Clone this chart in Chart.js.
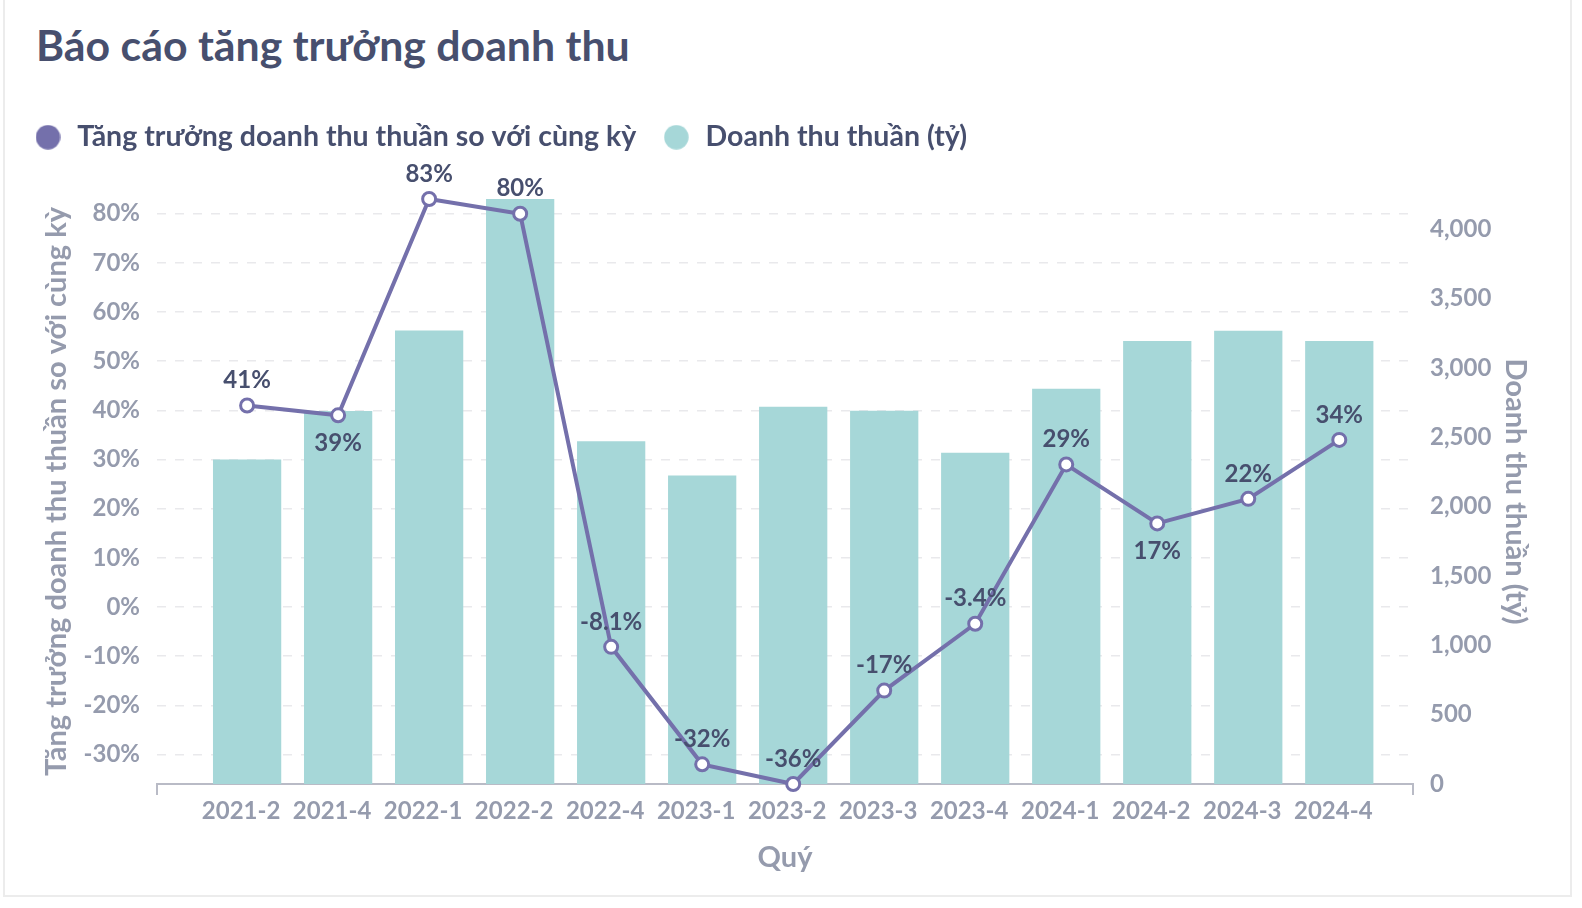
<!DOCTYPE html>
<html lang="vi">
<head>
<meta charset="utf-8">
<title>Báo cáo tăng trưởng doanh thu</title>
<script src="https://cdn.jsdelivr.net/npm/chart.js@4.4.1/dist/chart.umd.min.js"></script>
<style>
  html, body { margin: 0; padding: 0; background: #fff; }
  body { width: 1582px; height: 908px; position: relative; overflow: hidden; font-family: Lato, sans-serif; }
  .card { position: absolute; left: 3px; top: -10px; width: 1565px; height: 903px; border: 2px solid #ececec; }
  h1 { position: absolute; left: 36px; top: 24px; margin: 0; font: 700 42.8px/1 Lato, sans-serif; color: #474f6e; }
  #chartWrap { position: absolute; left: 0; top: 0; width: 1582px; height: 908px; }
</style>
</head>
<body>
<div class="card"></div>
<h1>Báo cáo tăng trưởng doanh thu</h1>
<div id="chartWrap"><canvas id="growthChart"></canvas></div>
<script>
// data
const quarters = ['2021-2', '2021-4', '2022-1', '2022-2', '2022-4', '2023-1', '2023-2',
                  '2023-3', '2023-4', '2024-1', '2024-2', '2024-3', '2024-4'];
const growthPct = [41, 39, 83, 80, -8.1, -32, -36, -17, -3.4, 29, 17, 22, 34];
const revenue = [2339, 2689, 3269, 4217, 2471, 2223, 2720, 2691, 2387, 2850, 3194, 3267, 3194];
const growthTicks = [-30, -20, -10, 0, 10, 20, 30, 40, 50, 60, 70, 80];
const revenueTicks = [0, 500, 1000, 1500, 2000, 2500, 3000, 3500, 4000];

const purple = '#7470ab';
const teal = '#a6d7d8';
const tickGray = '#959bad';
const textDark = '#474f6e';

// labels that sit under their point instead of above
const labelBelow = [1, 10];

// round legend marker drawn on a small canvas
function dot(color) {
    const c = document.createElement('canvas');
    c.width = 25;
    c.height = 25;
    const g = c.getContext('2d');
    g.fillStyle = color;
    g.beginPath();
    g.arc(12.5, 12.5, 12.2, 0, Math.PI * 2);
    g.fill();
    return c;
}

// extra room between legend and plot
const legendGap = {
    id: 'legendGap',
    beforeInit(chart) {
        const fit = chart.legend.fit;
        chart.legend.fit = function () {
            fit.call(this);
            this.height += 37.5;
        };
    }
};

// value labels on the growth line
const pointLabels = {
    id: 'pointLabels',
    afterDatasetsDraw(chart) {
        const ctx = chart.ctx;
        const meta = chart.getDatasetMeta(0);
        ctx.save();
        ctx.font = '700 24px Lato';
        ctx.fillStyle = textDark;
        ctx.textAlign = 'center';
        ctx.textBaseline = 'middle';
        meta.data.forEach(function (pt, i) {
            const dy = labelBelow.includes(i) ? 28 : -25;
            ctx.fillText(growthPct[i] + '%', pt.x, pt.y + dy);
        });
        ctx.restore();
    }
};

// small end ticks on the x axis line
const axisEnds = {
    id: 'axisEnds',
    afterDraw(chart) {
        const {ctx, chartArea} = chart;
        ctx.save();
        ctx.strokeStyle = '#b9bbc6';
        ctx.lineWidth = 2;
        ctx.beginPath();
        [chartArea.left, chartArea.right].forEach(function (x) {
            ctx.moveTo(x, chartArea.bottom);
            ctx.lineTo(x, chartArea.bottom + 11);
        });
        ctx.stroke();
        ctx.restore();
    }
};

const tickFont = { family: 'Lato', size: 24, weight: 700 };
const titleFont = { family: 'Lato', size: 29, weight: 700 };

new Chart(document.getElementById('growthChart'), {
    data: {
        datasets: [{
            type: 'line',
            label: 'Tăng trưởng doanh thu thuần so với cùng kỳ',
            data: growthPct.map((v, i) => ({ x: i, y: v })),
            yAxisID: 'y',
            order: 0,
            clip: false,
            borderColor: purple,
            backgroundColor: purple,
            borderWidth: 4,
            tension: 0,
            pointRadius: 6.5,
            pointBorderWidth: 3,
            pointBackgroundColor: '#fff',
            pointBorderColor: purple
        }, {
            type: 'bar',
            label: 'Doanh thu thuần (tỷ)',
            data: revenue.map((v, i) => ({ x: i, y: v })),
            yAxisID: 'y1',
            order: 1,
            backgroundColor: teal,
            categoryPercentage: 1,
            barPercentage: 0.75
        }]
    },
    options: {
        responsive: true,
        maintainAspectRatio: false,
        animation: false,
        layout: { padding: { top: 98, left: 8, right: 45, bottom: 30 } },
        plugins: {
            tooltip: { enabled: false },
            title: { display: false },
            legend: {
                position: 'top',
                align: 'start',
                labels: {
                    usePointStyle: true,
                    pointStyleWidth: 30,
                    boxHeight: 17,
                    padding: 25,
                    color: textDark,
                    font: { family: 'Lato', size: 28.5, weight: 700 },
                    generateLabels(chart) {
                        return chart.data.datasets.map((ds, i) => ({
                            text: ds.label,
                            datasetIndex: i,
                            fillStyle: i === 0 ? purple : teal,
                            strokeStyle: i === 0 ? purple : teal,
                            lineWidth: 0,
                            pointStyle: dot(i === 0 ? purple : teal),
                            fontColor: textDark,
                            hidden: false
                        }));
                    }
                }
            }
        },
        scales: {
            x: {
                type: 'linear',
                offset: false,
                min: -0.99,
                max: 12.81,
                afterBuildTicks: s => { s.ticks = quarters.map((q, i) => ({ value: i })); },
                afterFit: s => { s.height = 94; },
                grid: { display: false, drawTicks: false, offset: false },
                border: { display: true, color: '#b9bbc6', width: 2 },
                ticks: {
                    autoSkip: false,
                    maxRotation: 0,
                    padding: 12.5,
                    labelOffset: -6,
                    color: tickGray,
                    font: tickFont,
                    callback: v => quarters[v]
                },
                title: {
                    display: true,
                    text: 'Quý',
                    color: tickGray,
                    font: titleFont,
                    padding: { top: 0, bottom: 2.6 }
                }
            },
            y: {
                position: 'left',
                min: -36,
                max: 83,
                afterBuildTicks: s => { s.ticks = growthTicks.map(v => ({ value: v })); },
                afterFit: s => { s.width = 149; },
                grid: { color: '#e9e9ec', lineWidth: 1.5, drawTicks: false },
                border: { display: false, dash: [9, 9] },
                ticks: {
                    padding: 17,
                    color: tickGray,
                    font: tickFont,
                    callback: v => v + '%'
                },
                title: {
                    display: true,
                    text: 'Tăng trưởng doanh thu thuần so với cùng kỳ',
                    color: tickGray,
                    font: titleFont,
                    padding: { top: 31, bottom: 0 }
                }
            },
            y1: {
                position: 'right',
                min: 0,
                max: 4217,
                afterBuildTicks: s => { s.ticks = revenueTicks.map(v => ({ value: v })); },
                afterFit: s => { s.width = 124; },
                grid: { display: false, drawTicks: false },
                border: { display: false },
                ticks: {
                    padding: 17,
                    color: tickGray,
                    font: tickFont,
                    callback: v => v.toLocaleString('en-US')
                },
                title: {
                    display: true,
                    text: 'Doanh thu thuần (tỷ)',
                    color: tickGray,
                    font: titleFont,
                    padding: { top: 4, bottom: 0 }
                }
            }
        }
    },
    plugins: [legendGap, pointLabels, axisEnds]
});
</script>
</body>
</html>
